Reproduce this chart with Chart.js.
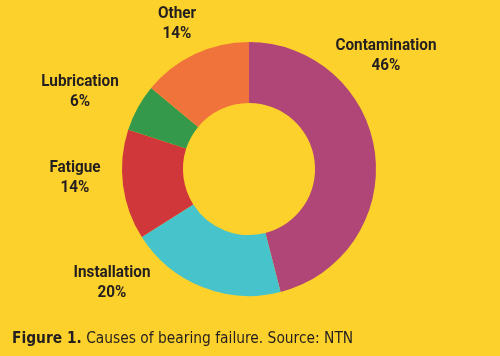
<!DOCTYPE html>
<html>
<head>
<meta charset="utf-8">
<script src="https://cdn.jsdelivr.net/npm/chart.js@4/dist/chart.umd.min.js"></script>
<style>
  html, body { margin: 0; padding: 0; background: #FDD12C; }
  #wrap { position: relative; width: 500px; height: 356px; }
  canvas { display: block; }
  #caption {
    position: absolute; left: 12px; top: 328px;
    font-family: 'Liberation Sans Narrow', 'DejaVu Sans Condensed', sans-serif;
    font-size: 16px; color: #231F20; white-space: nowrap;
    transform: scaleX(0.96); transform-origin: 0 0;
  }
  #caption b { font-weight: bold; }
</style>
</head>
<body>
<div id="wrap">
  <canvas id="c" width="500" height="356"></canvas>
  <div id="caption"><b>Figure 1.</b> Causes of bearing failure. Source: NTN</div>
</div>
<script>
const categories = ['Contamination', 'Installation', 'Fatigue', 'Lubrication', 'Other'];
const shares = [46, 20, 14, 6, 14];
const sliceColors = ['#B04677', '#46C3CB', '#D0373A', '#34994A', '#F0733B'];

// label anchor positions (text centre, first line), in canvas pixels
const labelAnchors = [[386, 46], [112, 273], [75, 168], [80, 82], [177, 14]];

const labelPlugin = {
  id: 'outerLabels',
  afterDraw(chart) {
    const ctx = chart.ctx;
    ctx.fillStyle = '#231F20';
    ctx.textAlign = 'center';
    ctx.textBaseline = 'middle';
    ctx.font = "bold 17px Roboto, 'DejaVu Sans Condensed', sans-serif";
    chart.data.labels.forEach((lab, i) => {
      const [x, y] = labelAnchors[i];
      ctx.save();
      ctx.translate(x, y);
      ctx.scale(0.9, 1);
      ctx.fillText(lab, 0, 0);
      ctx.fillText(chart.data.datasets[0].data[i] + '%', 0, 20);
      ctx.restore();
    });
  }
};

new Chart(document.getElementById('c'), {
  type: 'doughnut',
  data: {
    labels: categories,
    datasets: [{
      data: shares,
      backgroundColor: sliceColors,
      borderWidth: 0,
      hoverOffset: 0
    }]
  },
  options: {
    responsive: false,
    animation: false,
    cutout: '52%',
    layout: { padding: { top: 42, bottom: 60, left: 0, right: 2 } },
    plugins: { legend: { display: false }, tooltip: { enabled: false } }
  },
  plugins: [labelPlugin]
});
</script>
</body>
</html>
